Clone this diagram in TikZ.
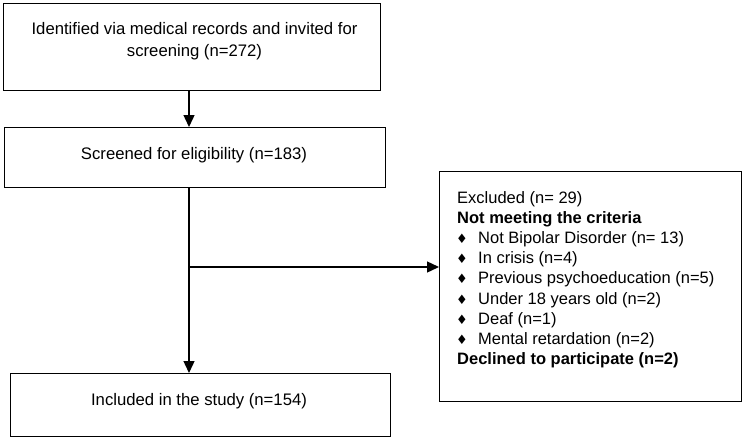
\documentclass[tikz,border=0pt]{standalone}
\usepackage{fontspec}
\setmainfont{Liberation Sans}
\newfontfamily\symfont{DejaVu Sans}
\usetikzlibrary{arrows.meta}
\newcommand{\dbul}{\makebox[21pt][l]{\hspace{-1pt}{\symfont\fontsize{13}{13}\selectfont ♦}}}
\begin{document}
\begin{tikzpicture}[x=1pt,y=-1pt,
  box/.style={draw,line width=1.4pt,inner sep=0pt,anchor=north west},
  txt/.style={inner sep=0pt,font=\fontsize{16.7}{22}\selectfont},
  conn/.style={line width=1.4pt},
  arr/.style={line width=1.4pt,-{Triangle[length=12pt,width=11pt]}}]
\useasboundingbox (0,0) rectangle (744,439);
% boxes
\node[box,minimum width=377pt,minimum height=87pt] (b1) at (3,3) {};
\node[box,minimum width=381pt,minimum height=60pt] (b2) at (4,127) {};
\node[box,minimum width=380pt,minimum height=63pt] (b3) at (10,373) {};
\node[box,minimum width=302pt,minimum height=230pt] (ex) at (439,171) {};
% texts
\node[txt,align=center] (t1) at (194.5,41) {Identified via medical records and invited for\\screening (n=272)};
\node[txt] (t2) at (194,155.5) {Screened for eligibility (n=183)};
\node[txt] (t3) at (199,401) {Included in the study (n=154)};
\node[txt,align=left,anchor=north west,font=\fontsize{16.5}{20.2}\selectfont] (tx) at (457,191) {%
Excluded (n= 29)\\
\textbf{Not meeting the criteria}\\
\dbul Not Bipolar Disorder (n= 13)\\
\dbul In crisis (n=4)\\
\dbul Previous psychoeducation (n=5)\\
\dbul Under 18 years old (n=2)\\
\dbul Deaf (n=1)\\
\dbul Mental retardation (n=2)\\
\textbf{Declined to participate (n=2)}};
% connectors
\coordinate (j) at (189,267);
\draw[arr] (189,90) -- (b2.north -| 189,0);
\draw[arr] (b2.south -| 189,0) -- (b3.north -| 189,0);
\draw[arr] (j) -- (ex.west |- j);
\end{tikzpicture}
\end{document}
